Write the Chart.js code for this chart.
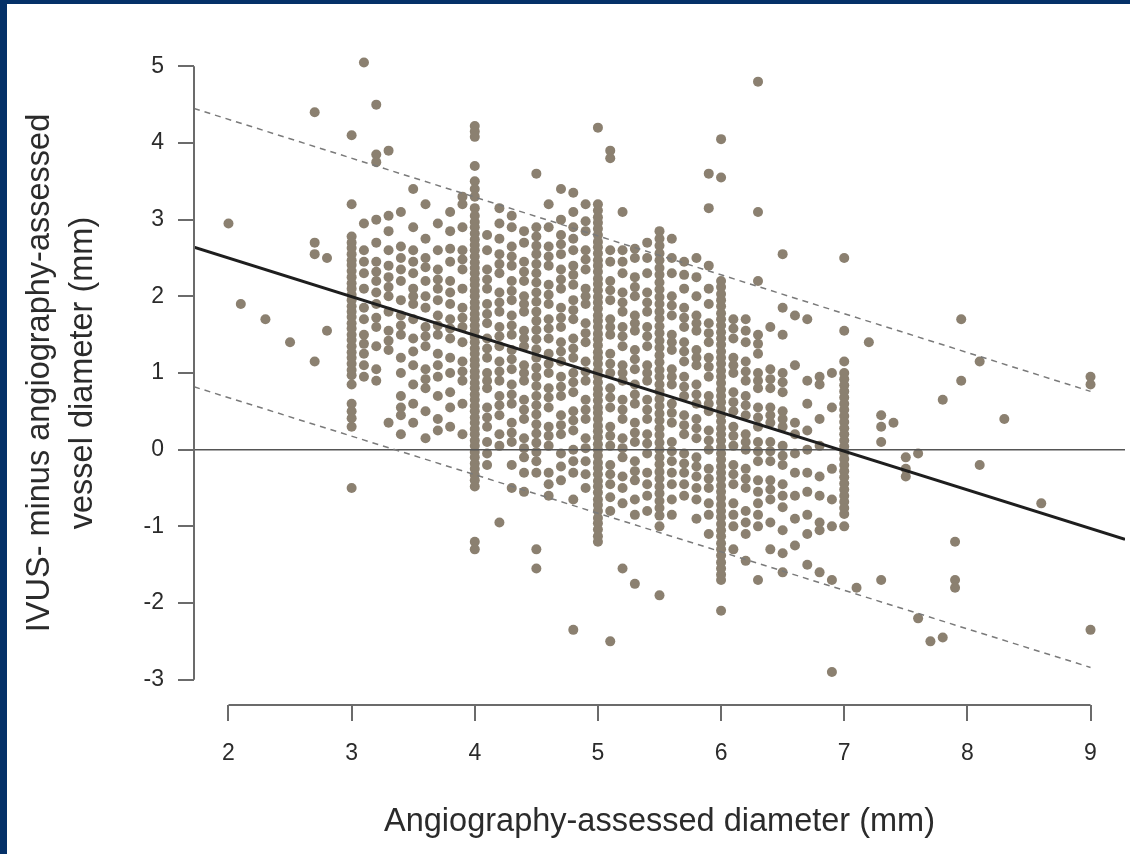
<!DOCTYPE html>
<html lang="en">
<head>
<meta charset="UTF-8">
<title>IVUS vs angiography diameter</title>
<script src="https://cdn.jsdelivr.net/npm/chart.js"></script>
<style>
    html, body { margin: 0; padding: 0; }
    body { background: #043168; width: 1130px; height: 854px; overflow: hidden; position: relative; }
    .plotBox { position: absolute; left: 7px; top: 4px; width: 1123px; height: 850px; background: white; }
</style>
</head>
<body>
<div class="plotBox">
    <canvas id="diamChart" width="1123" height="850"></canvas>
</div>
<script>
// tick values
const xTicks = [2, 3, 4, 5, 6, 7, 8, 9];
const yTicks = [-3, -2, -1, 0, 1, 2, 3, 4, 5];

// angiography-assessed diameter (x) and the IVUS minus angio differences read at each x
const diamX = [2.0, 2.1, 2.3, 2.5, 2.7, 2.8, 3.0, 3.1, 3.2, 3.3, 3.4, 3.5, 3.6, 3.7, 3.8, 3.9,
    4.0, 4.1, 4.2, 4.3, 4.4, 4.5, 4.6, 4.7, 4.8, 4.9, 5.0, 5.1, 5.2, 5.3, 5.4, 5.5, 5.6, 5.7, 5.8, 5.9,
    6.0, 6.1, 6.2, 6.3, 6.4, 6.5, 6.6, 6.7, 6.8, 6.9, 7.0, 7.1, 7.2, 7.3, 7.4, 7.5, 7.6, 7.7, 7.8, 7.9,
    7.95, 8.1, 8.3, 8.6, 9.0];
const diffY = [
    [2.95],
    [1.9],
    [1.7],
    [1.4],
    [4.4, 2.7, 2.55, 1.15],
    [2.5, 1.55],
    [4.1, 3.2, 2.78, 2.7, 2.63, 2.55, 2.47, 2.41, 2.33, 2.25, 2.17, 2.1, 2.02, 1.95, 1.87, 1.8, 1.73, 1.65, 1.58, 1.5, 1.43, 1.35, 1.27, 1.2, 1.12, 1.04, 0.97, 0.85, 0.6, 0.5, 0.41, 0.3, -0.5],
    [5.05, 2.95, 2.6, 2.3, 2.1, 1.85, 1.7, 1.5, 1.25, 1.1, 0.95, 2.45, 1.38],
    [4.5, 3.85, 3.75, 3.0, 2.7, 2.45, 2.2, 2.05, 1.9, 1.6, 1.35, 1.05, 0.9, 2.32, 1.72],
    [3.9, 3.05, 2.85, 2.6, 2.4, 2.25, 2.0, 1.8, 1.55, 1.3, 0.35, 2.12, 1.42],
    [3.1, 2.65, 2.5, 2.2, 1.95, 1.75, 1.5, 1.2, 0.7, 0.55, 0.45, 0.2, 2.35, 1.62, 1.0],
    [3.4, 2.9, 2.6, 2.45, 2.3, 2.1, 1.9, 1.7, 1.45, 1.1, 0.85, 0.6, 0.35, 2.0, 1.28],
    [3.2, 2.75, 2.5, 2.2, 2.0, 1.85, 1.6, 1.35, 1.05, 0.8, 0.5, 0.15, 2.38, 1.48, 0.92],
    [2.95, 2.6, 2.35, 2.1, 1.95, 1.75, 1.5, 1.25, 0.95, 0.7, 0.4, 0.25, 2.22, 1.62, 1.1],
    [3.1, 2.85, 2.45, 2.2, 1.9, 1.7, 1.45, 1.2, 1.0, 0.75, 0.55, 0.3, 2.62, 2.05, 1.58],
    [3.3, 3.2, 2.9, 2.6, 2.35, 2.1, 1.85, 1.6, 1.4, 1.15, 0.9, 0.6, 0.2, 2.48, 1.72, 1.02],
    [4.22, 4.15, 4.08, 3.7, 3.5, 3.4, 3.3, 3.15, 3.05, 2.97, 2.9, 2.82, 2.74, 2.67, 2.6, 2.52, 2.44, 2.37, 2.3, 2.22, 2.15, 2.07, 2.0, 1.92, 1.85, 1.77, 1.7, 1.62, 1.55, 1.47, 1.4, 1.32, 1.25, 1.17, 1.1, 1.02, 0.95, 0.87, 0.8, 0.72, 0.65, 0.57, 0.5, 0.42, 0.35, 0.27, 0.2, 0.12, 0.05, -0.03, -0.1, -0.18, -0.25, -0.33, -0.4, -0.48, -1.2, -1.3],
    [2.6, 2.35, 2.1, 1.9, 1.65, 1.45, 1.2, 1.0, 0.8, 0.55, 0.3, 0.1, -0.2, 2.8, 2.22, 1.77, 1.32, 0.9, 0.42, -0.05],
    [3.15, 2.75, 2.55, 2.3, 2.05, 1.8, 1.6, 1.35, 1.15, 0.9, 0.7, 0.45, 0.2, -0.95, 2.95, 2.42, 1.92, 1.48, 1.02, 0.58, 0.05],
    [2.9, 2.65, 2.4, 2.2, 1.95, 1.75, 1.5, 1.3, 1.05, 0.85, 0.6, 0.35, 0.1, -0.5, 3.05, 2.52, 2.07, 1.62, 1.18, 0.72, 0.22, -0.2],
    [2.7, 2.45, 2.2, 2.0, 1.8, 1.55, 1.35, 1.1, 0.9, 0.65, 0.4, 0.15, -0.1, -0.55, 2.85, 2.32, 1.9, 1.45, 1.0, 0.52, 0.02, -0.3],
    [3.6, 2.9, 2.78, 2.66, 2.55, 2.42, 2.3, 2.18, 2.05, 1.93, 1.8, 1.68, 1.56, 1.44, 1.31, 1.2, 1.07, 0.95, 0.83, 0.7, 0.58, 0.46, 0.33, 0.21, 0.09, -0.03, -0.15, -0.3, -1.3, -1.55],
    [3.2, 2.65, 2.4, 2.15, 1.9, 1.7, 1.45, 1.25, 1.0, 0.8, 0.55, 0.3, 0.05, -0.3, -0.6, 2.9, 2.52, 2.02, 1.58, 1.12, 0.68, 0.18, -0.45],
    [3.4, 3.0, 2.8, 2.55, 2.35, 2.1, 1.85, 1.6, 1.4, 1.15, 0.95, 0.7, 0.45, 0.2, -0.05, -0.4, 2.68, 2.22, 1.72, 1.28, 0.82, 0.32, -0.22],
    [3.35, 3.1, 2.9, 2.6, 2.4, 2.15, 1.95, 1.7, 1.45, 1.2, 1.0, 0.75, 0.5, 0.25, 0.0, -0.3, -0.65, -2.35, 2.75, 2.28, 1.82, 1.32, 0.88, 0.38, -0.15],
    [3.2, 2.85, 2.6, 2.35, 2.1, 1.9, 1.65, 1.4, 1.15, 0.9, 0.65, 0.4, 0.15, -0.15, -0.5, 2.98, 2.48, 2.0, 1.52, 1.02, 0.52, 0.02, -0.32],
    [4.2, 3.2, 3.12, 3.03, 2.96, 2.88, 2.8, 2.71, 2.64, 2.56, 2.47, 2.4, 2.32, 2.23, 2.16, 2.08, 1.99, 1.92, 1.84, 1.75, 1.68, 1.6, 1.51, 1.44, 1.36, 1.27, 1.2, 1.12, 1.03, 0.96, 0.88, 0.79, 0.72, 0.64, 0.55, 0.48, 0.4, 0.31, 0.24, 0.16, 0.07, 0.0, -0.08, -0.17, -0.24, -0.32, -0.41, -0.48, -0.56, -0.65, -0.72, -0.8, -0.89, -0.96, -1.04, -1.13, -1.2],
    [3.9, 3.8, 2.45, 2.2, 1.95, 1.7, 1.5, 1.25, 1.0, 0.8, 0.55, 0.3, 0.05, -0.2, -0.45, -0.8, -2.5, 2.6, 2.08, 1.6, 1.12, 0.68, 0.18, -0.32, -0.62],
    [3.1, 2.6, 2.3, 2.05, 1.8, 1.6, 1.35, 1.1, 0.9, 0.65, 0.4, 0.15, -0.1, -0.35, -0.7, -1.55, 2.45, 1.92, 1.48, 1.0, 0.52, 0.02, -0.5],
    [2.5, 2.25, 2.0, 1.75, 1.55, 1.3, 1.05, 0.85, 0.6, 0.35, 0.1, -0.15, -0.4, -0.65, -1.75, 2.62, 2.12, 1.65, 1.18, 0.72, 0.22, -0.28, -0.85],
    [2.7, 2.3, 2.05, 1.8, 1.6, 1.35, 1.1, 0.9, 0.65, 0.4, 0.2, -0.05, -0.3, -0.6, 2.5, 1.92, 1.48, 1.0, 0.52, 0.08, -0.45, -0.8],
    [2.85, 2.75, 2.66, 2.56, 2.47, 2.37, 2.28, 2.18, 2.09, 1.99, 1.9, 1.8, 1.71, 1.61, 1.52, 1.42, 1.33, 1.23, 1.14, 1.04, 0.95, 0.85, 0.76, 0.66, 0.57, 0.47, 0.38, 0.28, 0.19, 0.09, 0.0, -0.1, -0.19, -0.29, -0.38, -0.48, -0.57, -0.67, -0.76, -0.86, -1.0, -1.9],
    [2.75, 2.3, 2.0, 1.75, 1.5, 1.3, 1.05, 0.85, 0.6, 0.35, 0.1, -0.15, -0.45, -0.85, 2.5, 1.88, 1.4, 0.95, 0.48, -0.02, -0.3, -0.65],
    [2.45, 2.1, 1.85, 1.6, 1.4, 1.15, 0.95, 0.7, 0.45, 0.2, -0.05, -0.3, -0.6, 2.28, 1.72, 1.28, 0.82, 0.32, -0.18, -0.45],
    [2.5, 2.0, 1.75, 1.55, 1.3, 1.1, 0.85, 0.6, 0.4, 0.15, -0.1, -0.35, -0.65, -0.9, 2.25, 1.65, 1.2, 0.72, 0.28, -0.22, -0.5],
    [3.6, 3.15, 2.4, 1.9, 1.65, 1.4, 1.2, 0.95, 0.7, 0.5, 0.25, 0.0, -0.25, -0.5, -0.85, -1.1, 2.1, 1.52, 1.08, 0.6, 0.12, -0.38, -0.7],
    [4.05, 3.55, 2.2, 2.12, 2.03, 1.95, 1.87, 1.78, 1.7, 1.62, 1.53, 1.45, 1.37, 1.28, 1.2, 1.12, 1.03, 0.95, 0.87, 0.78, 0.7, 0.62, 0.53, 0.45, 0.37, 0.28, 0.2, 0.12, 0.03, -0.05, -0.13, -0.22, -0.3, -0.38, -0.47, -0.55, -0.63, -0.72, -0.8, -0.88, -0.97, -1.05, -1.13, -1.22, -1.3, -1.38, -1.47, -1.55, -1.63, -1.7, -2.1],
    [1.7, 1.45, 1.2, 1.0, 0.75, 0.5, 0.3, 0.05, -0.2, -0.45, -0.7, -1.0, -1.3, 1.58, 1.1, 0.62, 0.18, -0.32, -0.85],
    [1.7, 1.4, 1.15, 0.9, 0.7, 0.45, 0.2, 0.0, -0.25, -0.5, -0.8, -1.1, -1.45, 1.55, 1.02, 0.58, 0.1, -0.38, -0.95],
    [4.8, 3.1, 2.2, 1.5, 1.25, 1.0, 0.8, 0.55, 0.3, 0.1, -0.15, -0.4, -0.7, -1.0, -1.7, 1.38, 0.9, 0.42, -0.02, -0.55, -0.85],
    [1.6, 1.05, 0.8, 0.55, 0.35, 0.1, -0.15, -0.4, -0.65, -0.95, -1.3, 0.92, 0.45, -0.02, -0.52],
    [2.55, 1.85, 1.5, 1.0, 0.75, 0.5, 0.3, 0.05, -0.2, -0.45, -0.75, -1.05, -1.35, -1.6, 0.88, 0.4, -0.08, -0.6],
    [1.75, 1.1, 0.35, 0.2, -0.05, -0.3, -0.6, -0.9, -1.25],
    [1.7, 0.9, 0.6, 0.25, 0.0, -0.3, -0.55, -0.85, -1.1, -1.5],
    [0.95, 0.85, 0.4, 0.05, -0.35, -0.6, -0.95, -1.05, -1.6],
    [1.0, 0.55, -0.25, -0.65, -1.0, -1.7, -2.9],
    [2.5, 1.55, 1.15, 1.0, 0.92, 0.84, 0.76, 0.68, 0.6, 0.52, 0.44, 0.36, 0.28, 0.2, 0.12, 0.04, -0.04, -0.12, -0.2, -0.28, -0.36, -0.44, -0.52, -0.6, -0.68, -0.76, -0.84, -1.0],
    [-1.8],
    [1.4],
    [0.45, 0.3, 0.1, -1.7],
    [0.35],
    [-0.1, -0.25, -0.35],
    [-0.05, -2.2],
    [-2.5],
    [0.65, -2.45],
    [-1.2, -1.7, -1.8],
    [1.7, 0.9],
    [1.15, -0.2],
    [0.4],
    [-0.7],
    [0.95, 0.85, -2.35]
];

// fitted line, its limits of agreement, and the zero line
const fitX = [1.72, 9.28];
const fitY = [2.64, -1.17];
const limitX = [1.72, 9.0];
const upperY = [4.45, 0.76];
const lowerY = [0.82, -2.84];
const zeroX = [1.72, 9.28];
const zeroY = [0, 0];

const toPts = (xs, ys) => xs.map((x, i) => ({ x: x, y: ys[i] }));
let scatterPts = [];
diamX.forEach((x, i) => diffY[i].forEach(y => scatterPts.push({ x: x, y: y })));

// R-style axis lines running only from first to last tick
const axisLines = {
    id: 'axisLines',
    afterDraw(chart) {
        const { ctx, chartArea, scales } = chart;
        ctx.save();
        ctx.strokeStyle = '#6b6b6b';
        ctx.lineWidth = 2;
        ctx.beginPath();
        ctx.moveTo(scales.x.getPixelForValue(xTicks[0]), chartArea.bottom);
        ctx.lineTo(scales.x.getPixelForValue(xTicks[xTicks.length - 1]), chartArea.bottom);
        ctx.moveTo(chartArea.left, scales.y.getPixelForValue(yTicks[0]));
        ctx.lineTo(chartArea.left, scales.y.getPixelForValue(yTicks[yTicks.length - 1]));
        ctx.stroke();
        ctx.restore();
    }
};

const ctx = document.getElementById('diamChart').getContext('2d');
new Chart(ctx, {
    type: 'scatter',
    data: {
        datasets: [
            { data: toPts(fitX, fitY), showLine: true, borderColor: '#1e1e1e', borderWidth: 3, pointRadius: 0, order: 0 },
            { data: toPts(limitX, upperY), showLine: true, borderColor: '#7a7a7a', borderWidth: 1.5, borderDash: [6, 5], pointRadius: 0, order: 0 },
            { data: toPts(limitX, lowerY), showLine: true, borderColor: '#7a7a7a', borderWidth: 1.5, borderDash: [6, 5], pointRadius: 0, order: 0 },
            { data: toPts(zeroX, zeroY), showLine: true, borderColor: '#555555', borderWidth: 1.5, pointRadius: 0, order: 0 },
            { data: scatterPts, backgroundColor: 'rgb(139,128,112)', borderWidth: 0, pointRadius: 5, order: 1 }
        ]
    },
    options: {
        responsive: false,
        animation: false,
        layout: { padding: { top: 37, right: 1, left: 0, bottom: 0 } },
        plugins: { legend: { display: false }, tooltip: { enabled: false } },
        scales: {
            x: {
                type: 'linear',
                min: 1.72,
                max: 9.28,
                afterFit: (s) => { s.height = 149; },
                afterBuildTicks: (s) => { s.ticks = xTicks.map(v => ({ value: v })); },
                border: { display: false },
                grid: { drawOnChartArea: false, drawTicks: true, tickLength: 16, color: '#6b6b6b', lineWidth: 2 },
                ticks: { color: '#2b2b2b', padding: 19, font: { family: 'Liberation Sans', size: 23 }, maxRotation: 0 },
                title: {
                    display: true,
                    text: 'Angiography-assessed diameter (mm)',
                    color: '#2b2b2b',
                    font: { family: 'Liberation Sans', size: 32.5 },
                    padding: { bottom: 12.5 }
                }
            },
            y: {
                type: 'linear',
                min: -3.33,
                max: 5.33,
                afterFit: (s) => { s.width = 187; },
                afterBuildTicks: (s) => { s.ticks = yTicks.map(v => ({ value: v })); },
                border: { display: false },
                grid: { drawOnChartArea: false, drawTicks: true, tickLength: 16, color: '#6b6b6b', lineWidth: 2 },
                ticks: { color: '#2b2b2b', padding: 14, font: { family: 'Liberation Sans', size: 23 } },
                title: {
                    display: true,
                    text: ['IVUS- minus angiography-assessed', 'vessel diameter (mm)'],
                    color: '#2b2b2b',
                    font: { family: 'Liberation Sans', size: 32.5, lineHeight: 1.32 },
                    padding: { top: 11.5 }
                }
            }
        }
    },
    plugins: [axisLines]
});
</script>
</body>
</html>
